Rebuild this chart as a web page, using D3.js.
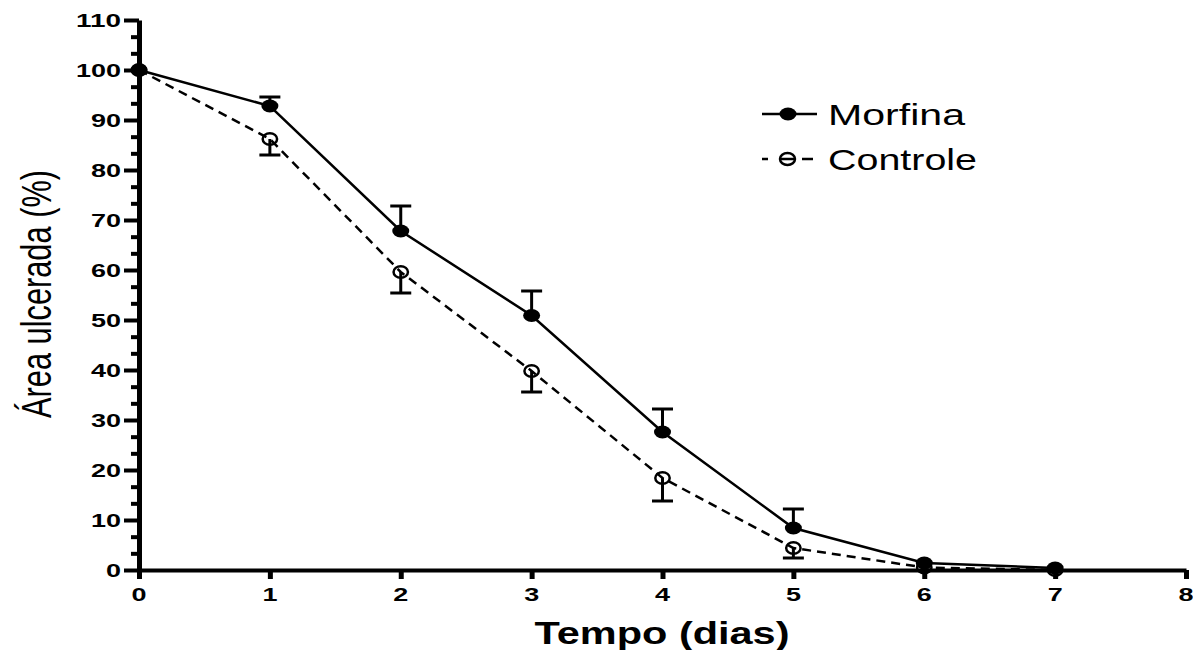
<!DOCTYPE html>
<html>
<head>
<meta charset="utf-8">
<script src="https://cdn.jsdelivr.net/npm/d3@7"></script>
<style>
  html, body { margin: 0; padding: 0; background: #fff; }
  svg { display: block; }
  text { font-family: "Liberation Sans", Arial, sans-serif; fill: #000; }
</style>
</head>
<body>
<svg id="chart" width="1193" height="650"></svg>
<script>
// Healing of the ulcerated area over time, mean ± SEM
const days = [0, 1, 2, 3, 4, 5, 6, 7];
const morfina = [100, 92.8, 67.8, 50.9, 27.6, 8.4, 1.4, 0.4];
const morfinaErr = [0, 1.8, 5.0, 4.9, 4.6, 3.8, 0, 0];
const controle = [100, 86.2, 59.6, 39.8, 18.4, 4.4, 0.5, 0];
const controleErr = [0, 3.2, 4.2, 4.2, 4.6, 2.0, 0, 0];

const xTicks = [0, 1, 2, 3, 4, 5, 6, 7, 8];
const yTicks = [0, 10, 20, 30, 40, 50, 60, 70, 80, 90, 100, 110];
const seriesNames = ["Morfina", "Controle"];

const svg = d3.select("#chart");
const x = d3.scaleLinear().domain([0, 8]).range([139, 1186]);
const y = d3.scaleLinear().domain([0, 110]).range([570, 20]);

const DIGIT_W = 15; // wide bold digits on both axes

// minor y ticks: two between each pair of majors
const yMinor = [];
yTicks.slice(0, -1).forEach(v => { yMinor.push(v + 10 / 3, v + 20 / 3); });

// ---- Y axis
const gy = svg.append("g").attr("transform", `translate(${x(0)},0)`);
gy.call(d3.axisLeft(y).tickValues(yTicks).tickSize(15).tickSizeOuter(0).tickFormat(""));
gy.select(".domain").attr("stroke-width", 5).attr("stroke", "#000");
gy.selectAll(".tick line").attr("stroke-width", 4).attr("stroke", "#000");

const gyMinor = svg.append("g").attr("transform", `translate(${x(0)},0)`);
gyMinor.call(d3.axisLeft(y).tickValues(yMinor).tickSize(8).tickSizeOuter(0).tickFormat(""));
gyMinor.select(".domain").remove();
gyMinor.selectAll(".tick line").attr("stroke-width", 4).attr("stroke", "#000");

svg.append("g").selectAll("text").data(yTicks).join("text")
  .attr("x", 121).attr("y", d => y(d) + 6.5)
  .attr("text-anchor", "end")
  .attr("font-weight", "bold")
  .attr("font-size", 18)
  .attr("textLength", d => String(d).length * DIGIT_W)
  .attr("lengthAdjust", "spacingAndGlyphs")
  .text(d => d);

// ---- X axis
const gx = svg.append("g").attr("transform", `translate(0,${y(0)})`);
gx.call(d3.axisBottom(x).tickValues(xTicks).tickSize(9).tickSizeOuter(0).tickFormat(""));
gx.select(".domain").attr("stroke-width", 4).attr("stroke", "#000");
gx.selectAll(".tick line").attr("stroke-width", 5).attr("stroke", "#000");

svg.append("g").selectAll("text").data(xTicks).join("text")
  .attr("x", d => x(d)).attr("y", y(0) + 31)
  .attr("text-anchor", "middle")
  .attr("font-weight", "bold")
  .attr("font-size", 18)
  .attr("textLength", d => String(d).length * DIGIT_W)
  .attr("lengthAdjust", "spacingAndGlyphs")
  .text(d => d);

// ---- Axis titles
svg.append("text")
  .attr("x", 662).attr("y", 644)
  .attr("text-anchor", "middle")
  .attr("font-weight", "bold")
  .attr("font-size", 32)
  .attr("textLength", 255)
  .attr("lengthAdjust", "spacingAndGlyphs")
  .text("Tempo (dias)");

svg.append("text")
  .attr("transform", "translate(51,294) rotate(-90)")
  .attr("text-anchor", "middle")
  .attr("font-size", 42)
  .attr("textLength", 248)
  .attr("lengthAdjust", "spacingAndGlyphs")
  .text("Área ulcerada (%)");

// ---- Series
const line = d3.line().x((d, i) => x(days[i])).y(d => y(d));
const plot = svg.append("g");

// error bars: Controle downward, Morfina upward
const capW = 21;
function errBars(vals, errs, dir) {
  const g = plot.append("g").attr("stroke", "#000").attr("stroke-width", 3);
  const idx = days.map((d, i) => i).filter(i => errs[i] > 0);
  g.selectAll("line.stem").data(idx).join("line")
    .attr("x1", i => x(days[i])).attr("x2", i => x(days[i]))
    .attr("y1", i => y(vals[i])).attr("y2", i => y(vals[i] + dir * errs[i]));
  g.selectAll("line.cap").data(idx).join("line")
    .attr("x1", i => x(days[i]) - capW / 2).attr("x2", i => x(days[i]) + capW / 2)
    .attr("y1", i => y(vals[i] + dir * errs[i])).attr("y2", i => y(vals[i] + dir * errs[i]));
}

errBars(controle, controleErr, -1);
errBars(morfina, morfinaErr, 1);

plot.append("path").datum(controle)
  .attr("d", line).attr("fill", "none").attr("stroke", "#000")
  .attr("stroke-width", 2.5).attr("stroke-dasharray", "9,6");

plot.append("path").datum(morfina)
  .attr("d", line).attr("fill", "none").attr("stroke", "#000")
  .attr("stroke-width", 2.5);

plot.append("g").selectAll("ellipse").data(controle).join("ellipse")
  .attr("cx", (d, i) => x(days[i])).attr("cy", d => y(d))
  .attr("rx", 7.2).attr("ry", 5.8)
  .attr("fill", "none").attr("stroke", "#000").attr("stroke-width", 2.5);

plot.append("g").selectAll("ellipse").data(morfina).join("ellipse")
  .attr("cx", (d, i) => x(days[i])).attr("cy", d => y(d))
  .attr("rx", 8.5).attr("ry", 6.4)
  .attr("fill", "#000");

// ---- Legend
const leg = svg.append("g");
leg.append("line").attr("x1", 762).attr("x2", 817).attr("y1", 114).attr("y2", 114)
  .attr("stroke", "#000").attr("stroke-width", 2.5);
leg.append("ellipse").attr("cx", 788).attr("cy", 114).attr("rx", 8.5).attr("ry", 6.4).attr("fill", "#000");
leg.append("text").attr("x", 828).attr("y", 125).attr("font-size", 30)
  .attr("textLength", 137).attr("lengthAdjust", "spacingAndGlyphs").text(seriesNames[0]);

leg.append("line").attr("x1", 762).attr("x2", 813).attr("y1", 159).attr("y2", 159)
  .attr("stroke", "#000").attr("stroke-width", 2.5).attr("stroke-dasharray", "6,11,17,6,11");
leg.append("ellipse").attr("cx", 787.5).attr("cy", 159).attr("rx", 7.5).attr("ry", 6)
  .attr("fill", "none").attr("stroke", "#000").attr("stroke-width", 2.5);
leg.append("text").attr("x", 828).attr("y", 170).attr("font-size", 30)
  .attr("textLength", 149).attr("lengthAdjust", "spacingAndGlyphs").text(seriesNames[1]);
</script>
</body>
</html>
